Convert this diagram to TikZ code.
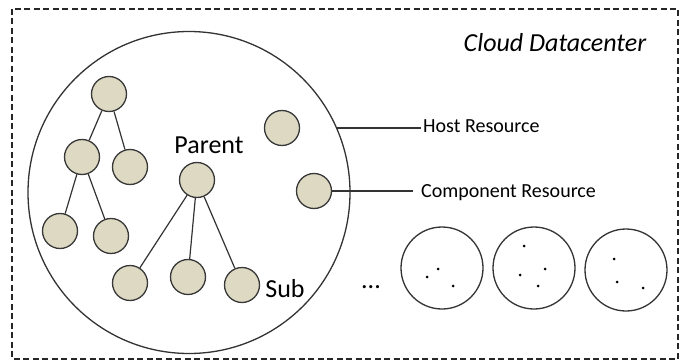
\documentclass[tikz,border=0pt]{standalone}
\usepackage{fontspec}
\setmainfont{Carlito}
\begin{document}
\begin{tikzpicture}[x=1pt,y=-1pt,
  vm/.style={circle,draw=black!78,line width=1.3pt,fill=tanfill,minimum size=35pt,inner sep=0pt},
  host/.style={circle,draw=black!80,line width=1.3pt,minimum size=82pt,inner sep=0pt},
  bighost/.style={circle,draw=black!80,line width=1.3pt,minimum size=322pt,inner sep=0pt},
  edge/.style={draw=black!80,line width=1.2pt},
  pt/.style={circle,fill=black,minimum size=3pt,inner sep=0pt},
  lbl/.style={inner sep=0pt,anchor=base,text=black},
  big/.style={font=\fontsize{26}{30}\selectfont},
  small/.style={font=\fontsize{20}{24}\selectfont}]
\definecolor{tanfill}{HTML}{DDD9C3}
\useasboundingbox (0,0) rectangle (685,361);
\draw[black!85,line width=1.3pt,dash pattern=on 6pt off 3.5pt] (12,9) rectangle (678,359);
\node[lbl,big] (title) at (555,52) {\itshape Cloud Datacenter};
% big host
\node[bighost] (H) at (189,192.5) {};
% tree 1
\node[vm] (t1) at (109,94) {};
\node[vm] (t2) at (82,157) {};
\node[vm] (t3) at (130,167) {};
\node[vm] (t4) at (60,231) {};
\node[vm] (t5) at (111,236) {};
\draw[edge] (t1) -- (t2);
\draw[edge] (t1) -- (t3);
\draw[edge] (t2) -- (t4);
\draw[edge] (t2) -- (t5);
% tree 2
\node[vm] (p) at (197,180) {};
\node[vm] (s1) at (130,283) {};
\node[vm] (s2) at (188,277) {};
\node[vm] (s3) at (242,285) {};
\draw[edge] (p) -- (s1);
\draw[edge] (p) -- (s2);
\draw[edge] (p) -- (s3);
\node[lbl,big] (plabel) at (209,153) {Parent};
\node[lbl,big] (slabel) at (285,297) {Sub};
% singles
\node[vm] (lone) at (282,128) {};
\node[vm] (comp) at (314,191) {};
% labels
\coordinate (hostbeg) at (336.5,128);
\coordinate (hostend) at (421,128);
\coordinate (compend) at (413,191);
\draw[edge] (hostbeg) -- (hostend);
\draw[edge] (comp.east) -- (compend);
\node[lbl,small,anchor=base west] (hostlbl) at (423,132) {Host Resource};
\node[lbl,small,anchor=base west] (complbl) at (421,197) {Component Resource};
% dots
\node[lbl,big] (ell) at (371,288) {...};
% small hosts
\node[host] (h1) at (442,268) {};
\node[host] (h2) at (534,268) {};
\node[host] (h3) at (626,270) {};
\node[pt] (d11) at (438,269) {};
\node[pt] (d12) at (427,277) {};
\node[pt] (d13) at (453,286) {};
\node[pt] (d21) at (524,246) {};
\node[pt] (d22) at (545,269) {};
\node[pt] (d23) at (520,275) {};
\node[pt] (d24) at (538,286) {};
\node[pt] (d31) at (614,259) {};
\node[pt] (d32) at (617,282) {};
\node[pt] (d33) at (643,288) {};
\end{tikzpicture}
\end{document}
